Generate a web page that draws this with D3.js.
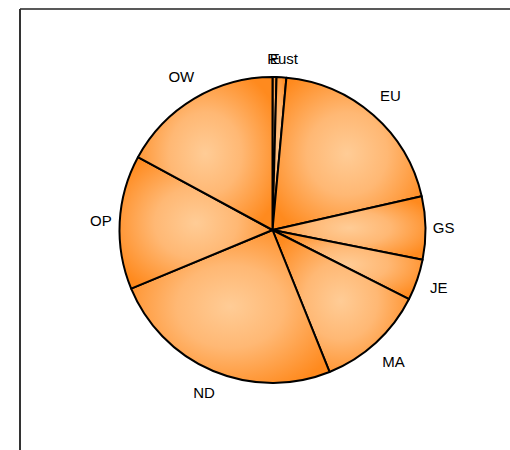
<!DOCTYPE html>
<html>
<head>
<meta charset="utf-8">
<script src="https://cdn.jsdelivr.net/npm/d3@7"></script>
<style>
  html, body { margin: 0; padding: 0; background: #fff; }
  svg { display: block; }
</style>
</head>
<body>
<svg id="chart" width="510" height="450"></svg>
<script>
// Data (share of the pie, %)
const categories = ["E", "Rust", "EU", "GS", "JE", "MA", "ND", "OP", "OW"];
const values = [0.42, 1.03, 20.0, 6.67, 4.33, 11.47, 24.83, 14.14, 17.11];

const svg = d3.select("#chart");
const W = 510, H = 450;
const cx = 272.5, cy = 230, r = 153;

// frame lines (top and left)
svg.append("line").attr("x1", 20).attr("y1", 9).attr("x2", W).attr("y2", 9)
  .attr("stroke", "#222").attr("stroke-width", 1.5);
svg.append("line").attr("x1", 20).attr("y1", 9).attr("x2", 20).attr("y2", H)
  .attr("stroke", "#333").attr("stroke-width", 2);

const data = categories.map((c, i) => ({ name: c, value: values[i] }));
const pie = d3.pie().value(d => d.value).sort(null);
const arcs = pie(data);
const arc = d3.arc().innerRadius(0).outerRadius(r);

const defs = svg.append("defs");
arcs.forEach((a, i) => {
  const g = defs.append("radialGradient").attr("id", "grad" + i)
    .attr("cx", "50%").attr("cy", "50%").attr("r", "60%");
  g.append("stop").attr("offset", "0%").attr("stop-color", "#ffcc96");
  g.append("stop").attr("offset", "45%").attr("stop-color", "#ffb874");
  g.append("stop").attr("offset", "100%").attr("stop-color", "#ff8a1e");
});

const gPie = svg.append("g").attr("transform", `translate(${cx},${cy})`);
gPie.selectAll("path.slice").data(arcs).enter().append("path")
  .attr("class", "slice")
  .attr("d", arc)
  .attr("fill", (d, i) => `url(#grad${i})`)
  .attr("stroke", "#000")
  .attr("stroke-width", 2)
  .attr("stroke-linejoin", "round");

// labels outside the pie
gPie.selectAll("text.lbl").data(arcs).enter().append("text")
  .attr("class", "lbl")
  .attr("transform", d => {
    const a = (d.startAngle + d.endAngle) / 2;
    const dist = 171 + 8 * Math.abs(Math.sin(2 * a));
    return `translate(${dist * Math.sin(a)},${-dist * Math.cos(a)})`;
  })
  .attr("text-anchor", "middle")
  .attr("dy", "0.35em")
  .attr("font-family", "'Liberation Sans', Arial, sans-serif")
  .attr("font-size", 15)
  .attr("fill", "#000")
  .text(d => d.data.name);
</script>
</body>
</html>
